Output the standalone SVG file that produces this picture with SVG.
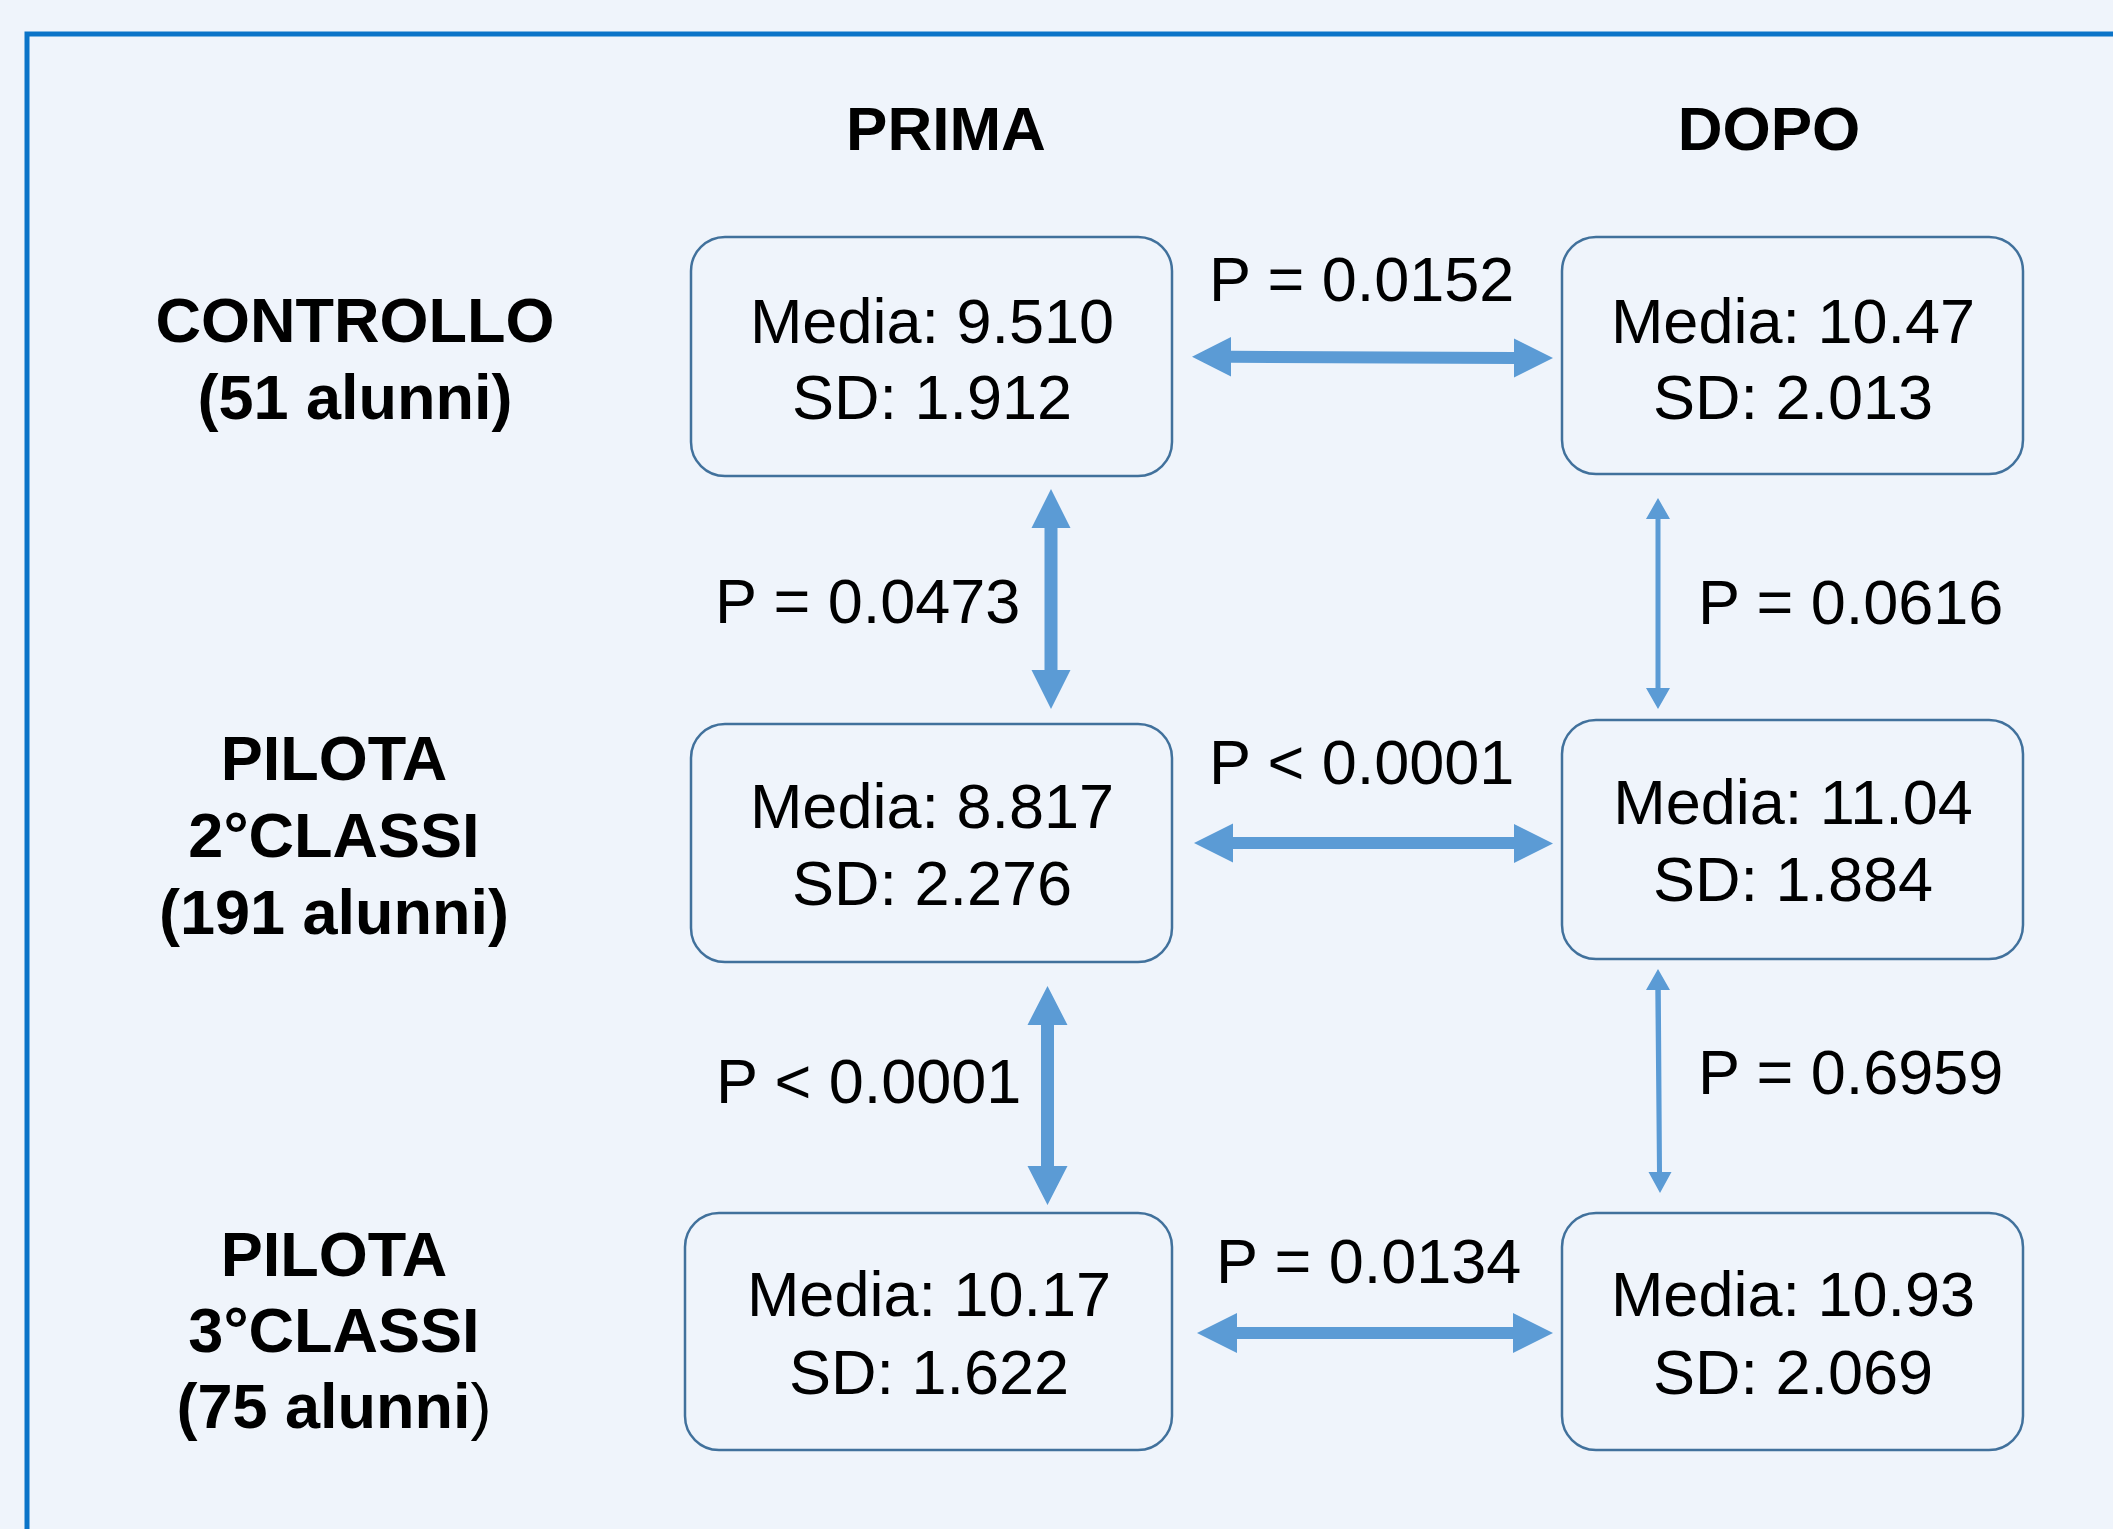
<svg xmlns="http://www.w3.org/2000/svg" width="2113" height="1529" viewBox="0 0 2113 1529">
<style>
.hdr{font-family:"Liberation Sans",Arial,sans-serif;font-weight:bold;font-size:62px;fill:#000;text-anchor:middle}
.lbl{font-family:"Liberation Sans",Arial,sans-serif;font-weight:bold;font-size:63px;fill:#000;text-anchor:middle}
.box{fill:#EFF4FB;stroke:#41719C;stroke-width:2.5}
.bt{font-family:"Liberation Sans",Arial,sans-serif;font-size:63px;fill:#000;text-anchor:middle}
.p{font-family:"Liberation Sans",Arial,sans-serif;font-size:63px;fill:#000}
.arr{fill:#5B9BD5}
</style>
<rect x="0" y="0" width="2113" height="1529" fill="#EFF4FB"/>
<rect x="27" y="34" width="2200" height="1600" fill="none" stroke="#0B74C8" stroke-width="5"/>
<text class="hdr" x="946" y="150">PRIMA</text>
<text class="hdr" x="1769" y="150">DOPO</text>
<g id="lbl-controllo"><text class="lbl" x="355" y="342">CONTROLLO</text><text class="lbl" x="355" y="419">(51 alunni)</text></g>
<g id="lbl-pilota2"><text class="lbl" x="334" y="780">PILOTA</text><text class="lbl" x="334" y="857">2°CLASSI</text><text class="lbl" x="334" y="934">(191 alunni)</text></g>
<g id="lbl-pilota3"><text class="lbl" x="334" y="1276">PILOTA</text><text class="lbl" x="334" y="1352">3°CLASSI</text><text class="lbl" x="334" y="1428">(75 alunni<tspan font-weight="normal">)</tspan></text></g>
<g id="ctrl-prima"><rect class="box" x="691" y="237" width="481" height="239" rx="34"/><text class="bt" x="932" y="343">Media: 9.510</text><text class="bt" x="932" y="419">SD: 1.912</text></g>
<g id="ctrl-dopo"><rect class="box" x="1562" y="237" width="461" height="237" rx="34"/><text class="bt" x="1793" y="343">Media: 10.47</text><text class="bt" x="1793" y="419">SD: 2.013</text></g>
<g id="p2-prima"><rect class="box" x="691" y="724" width="481" height="238" rx="34"/><text class="bt" x="932" y="828">Media: 8.817</text><text class="bt" x="932" y="905">SD: 2.276</text></g>
<g id="p2-dopo"><rect class="box" x="1562" y="720" width="461" height="239" rx="34"/><text class="bt" x="1793" y="824">Media: 11.04</text><text class="bt" x="1793" y="901">SD: 1.884</text></g>
<g id="p3-prima"><rect class="box" x="685" y="1213" width="487" height="237" rx="34"/><text class="bt" x="929" y="1316">Media: 10.17</text><text class="bt" x="929" y="1394">SD: 1.622</text></g>
<g id="p3-dopo"><rect class="box" x="1562" y="1213" width="461" height="237" rx="34"/><text class="bt" x="1793" y="1316">Media: 10.93</text><text class="bt" x="1793" y="1394">SD: 2.069</text></g>
<g id="connectors">
<polygon class="arr" points="1192,356.7 1231,337 1231,350.7 1514,352 1514,338.5 1553,358 1514,377.5 1514,364 1231,362.7 1231,376.5"/>
<polygon class="arr" points="1194,843 1233,823.5 1233,837 1514,837 1514,824 1553,843.5 1514,863 1514,849 1233,849 1233,862.5"/>
<polygon class="arr" points="1197,1333 1237,1313 1237,1327 1513,1327 1513,1313 1553,1333 1513,1353 1513,1339 1237,1339 1237,1353"/>
<polygon class="arr" points="1051,489 1070.5,528 1057.5,528 1057.5,670 1070.5,670 1051,709 1031.5,670 1044.5,670 1044.5,528 1031.5,528"/>
<polygon class="arr" points="1047.5,986 1067.5,1025 1054,1025 1054,1166 1067.5,1166 1047.5,1205 1027.5,1166 1041,1166 1041,1025 1027.5,1025"/>
<polygon class="arr" points="1658,498 1670,519 1660.5,519 1660.5,688 1670,688 1658,709 1646,688 1655.5,688 1655.5,519 1646,519"/>
<polygon class="arr" points="1658,969 1670,990 1660.8,990 1662,1172 1671.5,1172 1660,1193 1648.5,1172 1657,1172 1655.3,990 1646,990"/>
<text class="p" x="1209" y="301">P = 0.0152</text>
<text class="p" x="715" y="623">P = 0.0473</text>
<text class="p" x="1698" y="624">P = 0.0616</text>
<text class="p" x="1209" y="784">P &lt; 0.0001</text>
<text class="p" x="716" y="1103">P &lt; 0.0001</text>
<text class="p" x="1698" y="1094">P = 0.6959</text>
<text class="p" x="1216" y="1283">P = 0.0134</text>
</g>
</svg>
